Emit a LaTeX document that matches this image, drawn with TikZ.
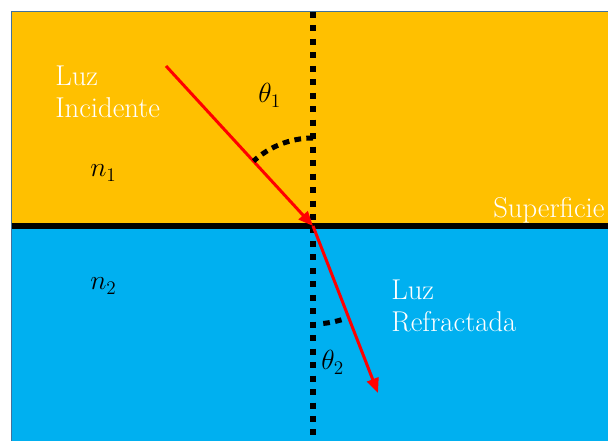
\documentclass[tikz,border=0pt]{standalone}
\usepackage{amsmath}
\usepackage{tikz}
\usetikzlibrary{arrows.meta}
\definecolor{refrgold}{HTML}{FFC000}
\definecolor{refrsky}{HTML}{00B0F0}
\definecolor{refredge}{HTML}{41719C}

\begin{document}
\begin{tikzpicture}[x=0.75pt,y=0.75pt,
  lbl/.style={inner sep=0pt,anchor=base west,font=\fontsize{21.5}{24}\selectfont},
  wlbl/.style={lbl,text=white,align=left},
  ray/.style={red,line width=2.25pt,-{Triangle[length=11pt,width=9pt]}},
  normline/.style={line width=4.5pt,dash pattern=on 4.5pt off 5.6pt},
  angmark/.style={line width=3.75pt,dash pattern=on 5pt off 4pt}]
  \useasboundingbox (0,0) rectangle (608,441);
  \clip (0,0) rectangle (608,441);
  % media
  \fill[refrgold] (11.5,215) rectangle (620,429);
  \fill[refrsky] (11.5,-10) rectangle (620,215);
  \draw[refredge,line width=0.75pt] (11.5,-10) rectangle (620,429);
  \coordinate (O) at (313,215);
  \coordinate (src) at (166,375);
  \coordinate (dst) at (378,48);
  \coordinate (top) at (313,429);
  \coordinate (bot) at (313,-5);
  % surface and normal
  \draw[line width=4.5pt] (11.5,215) -- (620,215);
  \draw[normline] (top) -- (bot);
  % rays
  \draw[ray] (src) -- (O);
  \draw[ray] (O) -- (dst);
  % angles
  \draw[angmark] (O) ++(90:88) arc[start angle=90,end angle=132.5,radius=88];
  \draw[angmark] (O) ++(-84:98) arc[start angle=-84,end angle=-70,radius=98];
  % labels
  \node[wlbl] (inc) at (55,323) {Luz\\Incidente};
  \node[wlbl] (refr) at (391,109) {Luz\\Refractada};
  \node[lbl,text=white] (surf) at (493,223) {Superficie};
  \node[lbl] (th1) at (258,338) {$\theta_1$};
  \node[lbl] (th2) at (321,71) {$\theta_2$};
  \node[lbl] (n1) at (90,264) {$n_1$};
  \node[lbl] (n2) at (90,151) {$n_2$};
\end{tikzpicture}
\end{document}
